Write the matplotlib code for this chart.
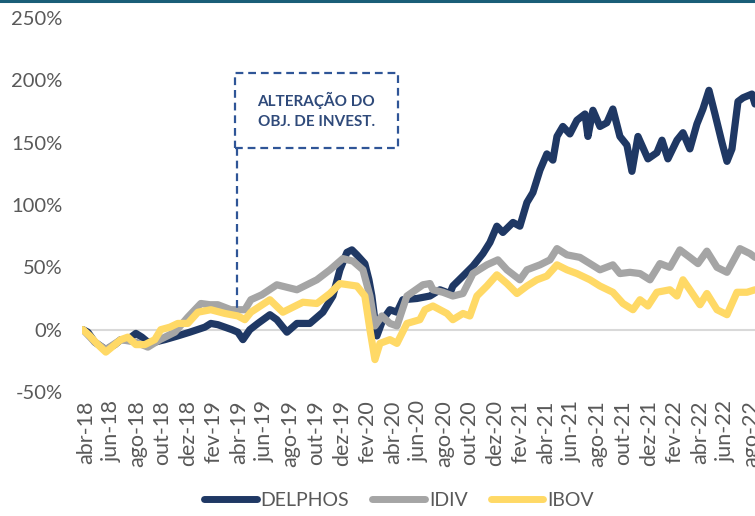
import matplotlib
matplotlib.use("Agg")
import matplotlib.pyplot as plt
from matplotlib.lines import Line2D

plt.rcParams['font.family'] = ['Lato', 'DejaVu Sans']

# x values: months since abr-18 ; y values: cumulative return in %
delphos_m = [-0.23, 0.16, 0.70, 1.56, 2.27, 2.74, 3.28, 3.91, 4.38, 4.85, 5.39, 6.18, 7.19, 8.13, 9.30, 9.77,
             10.32, 10.87, 11.42, 11.88, 12.28, 12.82, 13.45, 14.39, 14.93, 15.72, 16.50, 17.51, 18.53, 19.31,
             19.86, 20.41, 20.80, 21.19, 21.81, 22.13, 22.36, 22.75, 23.22, 23.77, 24.32, 24.78, 25.88, 26.90,
             27.68, 28.46, 28.69, 29.48, 30.26, 31.04, 31.59, 32.13, 32.60, 33.39, 33.93, 34.48, 34.95, 35.50,
             36.04, 36.51, 36.83, 37.29, 37.84, 38.39, 39.02, 39.25, 39.64, 40.19, 40.73, 41.20, 41.75, 42.30,
             42.69, 43.16, 43.94, 44.64, 45.04, 45.50, 46.21, 46.68, 47.22, 47.77, 48.24, 48.71, 49.18, 49.73,
             50.12, 50.51, 50.98, 51.37, 52.07, 52.31]
delphos = [0, -2, -10, -16, -12, -8, -8, -3, -6, -10, -10, -8, -5, -2, 2, 5,
           4, 2, 0, -2, -8, 0, 5, 12, 8, -2, 5, 5, 14, 27,
           48, 62, 64, 60, 53, 40, 27, -5, 8, 16, 14, 24, 25, 27,
           32, 29, 35, 43, 51, 61, 70, 83, 78, 86, 83, 102, 110, 128,
           141, 136, 155, 163, 157, 168, 173, 155, 176, 163, 166, 177, 155, 148,
           127, 155, 137, 142, 152, 137, 152, 158, 145, 165, 177, 192, 173, 150,
           135, 145, 183, 186, 189, 181]

idiv_m = [-0.23, 0.70, 1.56, 2.74, 3.91, 4.85, 5.79, 6.96, 7.97, 8.99, 9.70, 10.32, 11.34, 12.43, 12.90,
          13.76, 14.93, 16.50, 18.06, 19.08, 20.09, 20.88, 21.66, 22.21, 22.60, 23.14, 23.77, 24.32, 25.10,
          26.35, 26.90, 27.13, 27.91, 28.69, 29.48, 30.26, 31.35, 32.21, 32.92, 33.93, 34.48, 35.50, 36.28,
          36.83, 37.61, 38.62, 39.41, 40.19, 41.20, 41.75, 42.53, 43.32, 44.10, 44.88, 45.66, 46.44, 47.22,
          47.85, 48.55, 49.34, 50.12, 51.13, 51.92, 52.31]
idiv = [0, -10, -16, -8, -10, -14, -8, -2, 10, 21, 20, 20, 16, 16, 24,
        28, 36, 32, 40, 48, 57, 55, 48, 27, 3, 11, 5, 3, 27,
        36, 37, 32, 30, 27, 29, 45, 52, 56, 48, 40, 48, 52, 56,
        65, 60, 58, 53, 48, 52, 45, 46, 45, 40, 53, 50, 64, 58,
        53, 63, 50, 46, 65, 61, 58]

ibov_m = [-0.23, 0.31, 0.94, 1.56, 2.27, 2.74, 3.28, 3.91, 4.61, 5.39, 5.86, 6.57, 7.19, 7.97, 8.76, 9.77,
          10.87, 11.88, 12.43, 12.90, 14.39, 15.40, 16.97, 18.06, 19.08, 19.86, 21.19, 21.81, 22.21, 22.60,
          22.99, 23.77, 24.32, 25.10, 26.11, 26.51, 27.13, 28.23, 28.69, 29.48, 30.02, 30.57, 31.35, 32.13,
          32.92, 33.70, 34.48, 35.26, 36.04, 36.83, 37.61, 38.39, 39.41, 40.19, 41.20, 41.99, 42.77, 43.32,
          43.94, 44.64, 45.66, 46.21, 46.68, 47.22, 48.01, 48.55, 49.34, 50.12, 50.90, 51.68, 52.31]
ibov = [0, -5, -12, -18, -12, -8, -6, -12, -12, -8, 0, 2, 5, 5, 14, 16,
        13, 11, 8, 14, 24, 14, 22, 21, 29, 37, 35, 27, 0, -24,
        -11, -8, -11, 5, 8, 16, 19, 13, 8, 13, 11, 27, 35, 44,
        37, 29, 35, 40, 43, 52, 48, 45, 40, 35, 30, 21, 16, 24,
        19, 30, 32, 27, 40, 32, 20, 29, 16, 12, 30, 30, 32]

tick_labels = ['abr-18', 'jun-18', 'ago-18', 'out-18', 'dez-18', 'fev-19', 'abr-19', 'jun-19', 'ago-19',
               'out-19', 'dez-19', 'fev-20', 'abr-20', 'jun-20', 'ago-20', 'out-20', 'dez-20', 'fev-21',
               'abr-21', 'jun-21', 'ago-21', 'out-21', 'dez-21', 'fev-22', 'abr-22', 'jun-22', 'ago-22']
y_ticks = [-50, 0, 50, 100, 150, 200, 250]

NAVY = '#1F3864'
GRAY = '#A5A5A5'
YELLOW = '#FFD966'
TXT = '#595959'

fig = plt.figure(figsize=(7.55, 5.16), dpi=100)
ax = fig.add_axes([82/755, (516-392)/516, 673/755, (392-18)/516])

ax.axhline(0, color='#D9D9D9', lw=1.5, zorder=1)
ax.plot(idiv_m, idiv, color=GRAY, lw=5.2, solid_joinstyle='round', solid_capstyle='round', zorder=3, label='IDIV')
ax.plot(ibov_m, ibov, color=YELLOW, lw=5.2, solid_joinstyle='round', solid_capstyle='round', zorder=4, label='IBOV')
ax.plot(delphos_m, delphos, color=NAVY, lw=5.2, solid_joinstyle='round', solid_capstyle='round', zorder=2, label='DELPHOS')

ax.set_xlim(-0.3, 52.31)
ax.set_ylim(-50, 250)
ax.set_xticks(range(0, 2*len(tick_labels), 2))
ax.set_xticklabels(tick_labels, rotation=90, fontsize=15.5, color=TXT)
ax.set_yticks(y_ticks)
ax.set_yticklabels([f'{v}%' for v in y_ticks], fontsize=14.5, color=TXT)
ax.tick_params(axis='both', length=0)
ax.tick_params(axis='y', pad=14)
ax.tick_params(axis='x', pad=6)
for s in ax.spines.values():
    s.set_visible(False)

# annotation box
BLUE = '#2F5597'
dash = (0, (3.5, 2.2))
bx0, bx1, by0, by1 = 11.65, 24.4, 145.6, 206
ax.plot([bx0, bx1, bx1, bx0, bx0], [by0, by0, by1, by1, by0], color=BLUE, lw=1.6, ls=dash, zorder=5, clip_on=False)
ax.plot([11.8, 11.8], [by0, 14], color=BLUE, lw=1.6, ls=dash, zorder=5)
ax.text((bx0+bx1)/2, (by0+by1)/2, 'ALTERAÇÃO DO\nOBJ. DE INVEST.', ha='center', va='center',
        fontsize=11, fontweight='bold', color='#2F4A7A', linespacing=1.6, zorder=6)

handles = [Line2D([], [], color=NAVY, lw=5, solid_capstyle='round'),
           Line2D([], [], color=GRAY, lw=5, solid_capstyle='round'),
           Line2D([], [], color=YELLOW, lw=5, solid_capstyle='round')]
fig.legend(handles, ['DELPHOS', 'IDIV', 'IBOV'], loc='center', bbox_to_anchor=(399/755, 1-500/516), ncol=3,
           frameon=False, fontsize=14, handlelength=2.7, handletextpad=0.2, columnspacing=1.2,
           labelcolor=TXT)

fig.add_artist(Line2D([0, 1], [0.998, 0.998], color='#1A5E78', lw=2.2, transform=fig.transFigure))

fig.savefig('out.png', dpi=100)
